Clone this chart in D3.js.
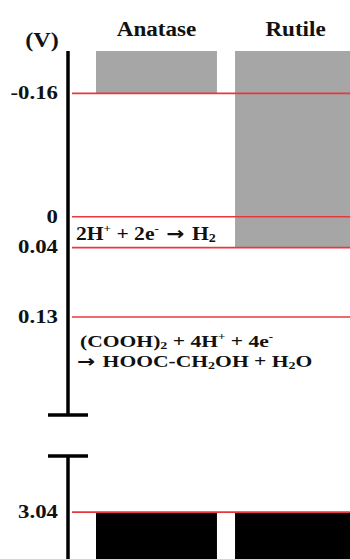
<!DOCTYPE html>
<html lang="en">
<head>
<meta charset="utf-8">
<title>Band edges</title>
<script src="https://d3js.org/d3.v7.min.js"></script>
<style>
  body { margin: 0; background: #fff; }
  text { font-family: "Liberation Serif", "Times New Roman", serif; font-weight: bold; fill: #111; }
</style>
</head>
<body>
<script>
// data
var phases = ["Anatase", "Rutile"];
var cbEdge = [-0.16, 0.04];     // conduction band bottom (V)
var vbEdge = [3.04, 3.04];      // valence band top (V)
var upperLevels = [-0.16, 0, 0.04, 0.13];
var lowerLevels = [3.04];
var tickLabels = ["-0.16", "0", "0.04", "0.13", "3.04"];
var reactionH2 = [["2H", ""], ["+", "sup"], [" + 2e", ""], ["-", "sup"], [" \u2192 ", "arrow"], ["H", ""], ["2", "sub"]];
var reactionOx1 = [["(COOH)", ""], ["2", "sub"], [" + 4H", ""], ["+", "sup"], [" + 4e", ""], ["-", "sup"]];
var reactionOx2 = [["\u2192 ", "arrow"], ["HOOC-CH", ""], ["2", "sub"], ["OH + H", ""], ["2", "sub"], ["O", ""]];

var width = 350, height = 559;
var axisX = 68;

var svg = d3.select("body").append("svg")
    .attr("width", width)
    .attr("height", height);

// broken axis: two scales
var yUp = d3.scaleLinear().domain([-0.215, 0.257]).range([51, 415]);
var yLow = d3.scaleLinear().domain([2.967, 3.101]).range([456, 559]);

var x = d3.scaleBand().domain(phases).range([96, 356]).paddingInner(0.13).paddingOuter(0);

// conduction band (grey)
svg.selectAll(".cb")
    .data(phases)
    .enter().append("rect")
    .attr("class", "cb")
    .attr("x", function (d) { return x(d); })
    .attr("y", yUp.range()[0])
    .attr("width", x.bandwidth())
    .attr("height", function (d, i) { return yUp(cbEdge[i]) - yUp.range()[0]; })
    .attr("fill", "#a6a6a6");

// valence band (black)
svg.selectAll(".vb")
    .data(phases)
    .enter().append("rect")
    .attr("class", "vb")
    .attr("x", function (d) { return x(d); })
    .attr("y", function (d, i) { return yLow(vbEdge[i]); })
    .attr("width", x.bandwidth())
    .attr("height", function (d, i) { return yLow.range()[1] - yLow(vbEdge[i]); })
    .attr("fill", "#000");

// red reference lines
svg.selectAll(".lvl-up")
    .data(upperLevels)
    .enter().append("line")
    .attr("x1", axisX + 4).attr("x2", width)
    .attr("y1", function (d) { return yUp(d); })
    .attr("y2", function (d) { return yUp(d); })
    .attr("stroke", "#e8383d")
    .attr("stroke-width", 1.6);

svg.selectAll(".lvl-low")
    .data(lowerLevels)
    .enter().append("line")
    .attr("x1", axisX + 4).attr("x2", width)
    .attr("y1", function (d) { return yLow(d); })
    .attr("y2", function (d) { return yLow(d); })
    .attr("stroke", "#e8383d")
    .attr("stroke-width", 1.6);

// axis segments with caps at the break
svg.append("line")
    .attr("x1", axisX).attr("x2", axisX)
    .attr("y1", yUp.range()[0]).attr("y2", yUp.range()[1])
    .attr("stroke", "#000").attr("stroke-width", 3.5);
svg.append("line")
    .attr("x1", axisX - 20).attr("x2", axisX + 20)
    .attr("y1", yUp.range()[1]).attr("y2", yUp.range()[1])
    .attr("stroke", "#000").attr("stroke-width", 3.5);
svg.append("line")
    .attr("x1", axisX).attr("x2", axisX)
    .attr("y1", yLow.range()[0]).attr("y2", yLow.range()[1])
    .attr("stroke", "#000").attr("stroke-width", 3.5);
svg.append("line")
    .attr("x1", axisX - 20).attr("x2", axisX + 20)
    .attr("y1", yLow.range()[0]).attr("y2", yLow.range()[0])
    .attr("stroke", "#000").attr("stroke-width", 3.5);

// the source picture is stretched sideways, so text is too
function place(px, py, sx) {
    return "translate(" + px + "," + py + ") scale(" + sx + ",1)";
}

// tick labels
var allLevels = upperLevels.concat(lowerLevels);
svg.selectAll(".tick-label")
    .data(allLevels)
    .enter().append("text")
    .attr("class", "tick-label")
    .attr("transform", function (d) { return place(58, d > 1 ? yLow(d) : yUp(d), 1.2); })
    .attr("dy", "0.3em")
    .attr("text-anchor", "end")
    .style("font-size", "19px")
    .text(function (d, i) { return tickLabels[i]; });

// unit
svg.append("text")
    .attr("transform", place(42, 47, 1.15))
    .attr("text-anchor", "middle")
    .style("font-size", "21px")
    .text("(V)");

// column headers
svg.selectAll(".head")
    .data(phases)
    .enter().append("text")
    .attr("class", "head")
    .attr("transform", function (d) { return place(x(d) + x.bandwidth() / 2, 36, 1.1); })
    .attr("text-anchor", "middle")
    .style("font-size", "21px")
    .text(function (d) { return d; });

// rich text helper for chemical equations
function richText(parent, parts, px, py, size, sx) {
    var t = parent.append("text")
        .attr("transform", place(px, py, sx))
        .style("font-size", size + "px");
    var cur = 0;
    parts.forEach(function (p) {
        var target = 0, fs = size;
        if (p[1] === "sup") { target = -size * 0.4; fs = size * 0.6; }
        if (p[1] === "sub") { target = size * 0.12; fs = size * 0.65; }
        var ts = t.append("tspan")
            .attr("dy", target - cur)
            .style("font-size", fs + "px")
            .text(p[0]);
        if (p[1] === "arrow") ts.style("font-family", "'DejaVu Sans', sans-serif");
        cur = target;
    });
    return t;
}

richText(svg, reactionH2, 76, yUp(0.04) - 8, 18, 1.2);
richText(svg, reactionOx1, 80, yUp(0.13) + 30, 17, 1.27);
richText(svg, reactionOx2, 77, yUp(0.13) + 50, 17, 1.27);
</script>
</body>
</html>
